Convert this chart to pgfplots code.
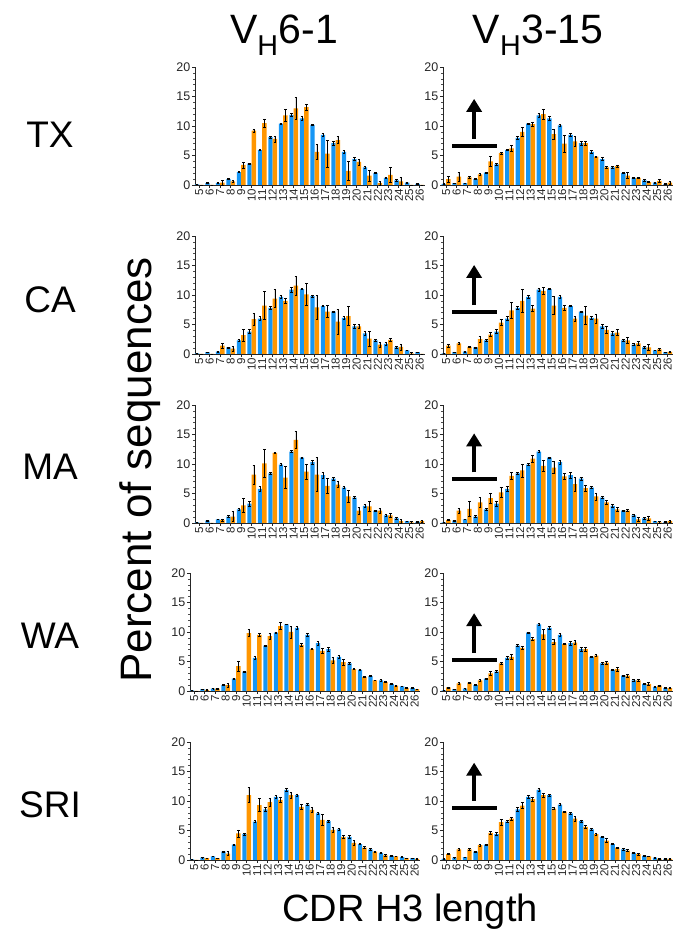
\documentclass[border=0pt]{standalone}
\usepackage{fontspec}
\setmainfont{Liberation Sans}
\usepackage{pgfplots}
\usepackage{pgfplotstable}
\pgfplotsset{compat=1.18}
\usetikzlibrary{arrows.meta}
\definecolor{cblue}{RGB}{22,150,245}
\definecolor{corange}{RGB}{255,150,0}

\pgfplotstableread{
x b be o oe
5 0.1 0.05 0.0 0.0
6 0.3 0.08 0.0 0.0
7 0.3 0.08 0.4 0.4
8 1.0 0.08 0.6 0.2
9 2.2 0.12 3.4 0.5
10 3.6 0.12 9.2 0.2
11 5.9 0.1 10.5 0.7
12 8.1 0.2 7.8 0.5
13 10.4 0.1 11.8 1.0
14 11.9 0.3 13.0 1.8
15 11.3 0.4 13.2 0.5
16 10.2 0.1 5.6 1.3
17 8.5 0.2 5.3 2.3
18 7.1 0.3 7.6 0.6
19 5.6 0.3 2.4 1.6
20 4.4 0.2 3.9 0.5
21 3.0 0.1 1.6 0.9
22 2.0 0.1 0.3 0.3
23 1.2 0.1 1.7 1.3
24 0.8 0.2 0.6 0.7
25 0.4 0.1 0.0 0.0
26 0.2 0.05 0.0 0.0
}\tA
\pgfplotstableread{
x b be o oe
5 0.2 0.05 1.0 0.5
6 0.3 0.05 1.4 0.8
7 0.3 0.05 1.3 0.1
8 1.0 0.05 1.8 0.15
9 2.1 0.1 4.0 0.8
10 3.5 0.1 5.4 0.15
11 5.9 0.1 6.2 0.5
12 8.0 0.2 9.0 0.7
13 10.4 0.1 10.3 0.4
14 11.8 0.3 12.0 0.9
15 11.3 0.4 8.6 0.8
16 10.1 0.1 7.0 1.4
17 8.5 0.2 7.4 0.9
18 7.1 0.3 7.1 0.3
19 5.6 0.3 4.8 0.1
20 4.4 0.2 3.0 0.15
21 3.0 0.1 3.2 0.2
22 2.0 0.1 1.6 0.5
23 1.2 0.1 1.2 0.1
24 0.8 0.1 0.5 0.1
25 0.4 0.1 0.7 0.2
26 0.15 0.05 0.4 0.3
}\tB
\pgfplotstableread{
x b be o oe
5 0.1 0.05 0.0 0.0
6 0.3 0.05 0.0 0.0
7 0.4 0.05 1.4 0.4
8 1.1 0.1 0.9 0.4
9 2.3 0.2 3.2 1.0
10 3.8 0.3 5.9 1.0
11 6.0 0.3 8.2 2.4
12 7.8 0.2 9.4 1.5
13 9.7 0.2 9.0 0.5
14 10.9 0.4 11.6 1.6
15 11.0 0.1 10.1 1.9
16 9.8 0.2 7.9 2.0
17 8.1 0.1 7.2 1.0
18 7.2 0.1 5.5 2.1
19 6.1 0.2 6.4 1.6
20 4.7 0.3 4.7 0.3
21 3.5 0.3 2.6 1.3
22 2.3 0.1 1.6 0.4
23 1.7 0.2 2.4 0.3
24 1.1 0.2 1.2 0.5
25 0.6 0.05 0.1 0.15
26 0.3 0.05 0.0 0.0
}\tC
\pgfplotstableread{
x b be o oe
5 0.1 0.05 1.4 0.3
6 0.3 0.05 1.8 0.2
7 0.4 0.05 1.2 0.1
8 1.1 0.1 2.5 0.5
9 2.3 0.2 3.3 0.3
10 3.8 0.3 5.3 0.5
11 6.0 0.3 7.4 1.4
12 7.8 0.2 9.0 2.0
13 9.7 0.2 7.7 0.5
14 10.9 0.3 10.7 0.6
15 11.0 0.1 8.2 1.5
16 9.7 0.2 7.8 0.4
17 8.1 0.1 6.0 0.4
18 7.2 0.1 6.5 1.5
19 6.1 0.2 6.0 0.8
20 4.7 0.3 4.1 0.6
21 3.5 0.3 3.6 0.5
22 2.3 0.1 2.3 0.5
23 1.6 0.2 1.8 0.3
24 1.1 0.2 1.1 0.5
25 0.6 0.05 0.8 0.2
26 0.3 0.05 0.35 0.1
}\tD
\pgfplotstableread{
x b be o oe
5 0.1 0.05 0.0 0.0
6 0.4 0.05 0.0 0.0
7 0.6 0.05 0.5 0.2
8 1.1 0.2 1.1 0.9
9 2.3 0.2 3.0 1.2
10 3.3 0.4 8.2 1.6
11 5.8 0.4 10.1 2.3
12 8.4 0.2 11.9 0.1
13 9.9 0.2 7.7 1.9
14 12.1 0.2 14.1 1.5
15 11.1 0.1 8.7 1.3
16 10.3 0.4 8.2 2.9
17 8.1 0.5 6.3 1.3
18 7.5 0.2 6.5 0.5
19 6.0 0.2 4.5 1.0
20 4.3 0.2 2.1 0.6
21 2.9 0.2 2.8 0.9
22 2.1 0.1 2.1 0.4
23 1.3 0.1 1.3 0.3
24 0.8 0.1 0.3 0.3
25 0.3 0.05 0.1 0.1
26 0.2 0.05 0.3 0.2
}\tE
\pgfplotstableread{
x b be o oe
5 0.1 0.05 0.5 0.1
6 0.4 0.05 2.1 0.4
7 0.6 0.05 2.4 1.2
8 1.1 0.2 3.5 0.8
9 2.3 0.2 4.2 0.8
10 3.3 0.4 5.2 0.8
11 5.8 0.4 8.0 0.6
12 8.4 0.2 8.9 1.1
13 9.9 0.2 10.9 0.6
14 12.1 0.2 9.7 1.0
15 11.1 0.1 9.4 1.0
16 10.3 0.3 7.9 0.5
17 8.1 0.5 6.6 1.2
18 7.5 0.2 5.9 0.5
19 6.0 0.2 4.5 0.6
20 4.3 0.2 3.5 0.3
21 2.9 0.2 2.3 0.4
22 2.1 0.1 2.1 0.2
23 1.3 0.1 0.6 0.3
24 0.8 0.1 0.8 0.4
25 0.3 0.05 0.1 0.1
26 0.2 0.05 0.3 0.2
}\tF
\pgfplotstableread{
x b be o oe
5 0.1 0.02 0.0 0.0
6 0.3 0.03 0.2 0.05
7 0.4 0.03 0.4 0.1
8 1.0 0.05 1.0 0.3
9 2.1 0.1 4.2 0.9
10 3.3 0.1 9.8 0.6
11 5.6 0.2 9.5 0.3
12 7.7 0.1 9.3 0.5
13 9.9 0.1 11.0 0.6
14 11.3 0.05 10.0 1.0
15 10.7 0.2 7.8 0.2
16 9.5 0.2 7.1 0.1
17 8.1 0.3 6.8 0.5
18 7.1 0.3 5.2 0.5
19 5.8 0.2 4.9 0.5
20 4.7 0.1 3.7 0.1
21 3.6 0.1 2.4 0.1
22 2.5 0.1 1.8 0.05
23 1.8 0.1 1.5 0.05
24 1.2 0.1 0.9 0.1
25 0.8 0.05 0.5 0.05
26 0.5 0.05 0.3 0.05
}\tG
\pgfplotstableread{
x b be o oe
5 0.1 0.02 0.6 0.1
6 0.3 0.03 1.3 0.1
7 0.4 0.03 1.4 0.1
8 1.0 0.05 1.8 0.1
9 2.1 0.1 3.0 0.3
10 3.3 0.2 4.7 0.1
11 5.6 0.3 5.8 0.4
12 7.7 0.2 7.3 0.2
13 9.9 0.1 8.8 0.3
14 11.3 0.1 9.6 0.8
15 10.7 0.2 8.3 0.4
16 9.5 0.2 8.0 0.1
17 8.1 0.3 8.2 0.3
18 7.1 0.3 7.1 0.3
19 5.8 0.1 6.0 0.2
20 4.7 0.1 4.8 0.2
21 3.6 0.1 3.7 0.3
22 2.6 0.1 2.6 0.3
23 1.8 0.1 1.8 0.2
24 1.2 0.1 1.2 0.2
25 0.7 0.05 0.9 0.05
26 0.5 0.05 0.5 0.05
}\tH
\pgfplotstableread{
x b be o oe
5 0.1 0.02 0.0 0.0
6 0.4 0.03 0.3 0.05
7 0.6 0.03 0.3 0.05
8 1.4 0.05 1.1 0.3
9 2.6 0.1 4.5 0.6
10 4.4 0.2 11.0 1.3
11 6.5 0.2 9.3 1.1
12 8.6 0.3 9.8 0.7
13 10.7 0.2 10.2 0.5
14 11.9 0.2 11.0 0.5
15 11.0 0.2 9.0 0.4
16 9.4 0.2 8.5 0.4
17 7.9 0.2 6.8 0.9
18 6.6 0.2 5.1 0.4
19 5.2 0.2 3.9 0.3
20 3.9 0.2 2.9 0.4
21 2.7 0.1 2.1 0.2
22 1.8 0.1 1.4 0.1
23 1.2 0.1 0.8 0.1
24 0.7 0.05 0.6 0.05
25 0.5 0.05 0.3 0.05
26 0.3 0.05 0.2 0.05
}\tI
\pgfplotstableread{
x b be o oe
5 0.2 0.02 1.0 0.1
6 0.4 0.03 1.8 0.1
7 0.5 0.03 1.8 0.1
8 1.4 0.1 2.5 0.2
9 2.6 0.1 4.6 0.3
10 4.4 0.3 6.4 0.5
11 6.5 0.2 7.0 0.2
12 8.6 0.3 9.2 0.5
13 10.7 0.2 10.3 0.4
14 11.9 0.2 11.0 0.3
15 11.0 0.2 8.7 0.2
16 9.4 0.2 8.2 0.1
17 7.9 0.1 7.0 0.4
18 6.6 0.2 5.6 0.2
19 5.2 0.2 4.4 0.2
20 3.9 0.1 3.3 0.3
21 2.7 0.1 2.1 0.1
22 1.8 0.1 1.6 0.2
23 1.2 0.1 1.0 0.2
24 0.7 0.05 0.6 0.05
25 0.4 0.05 0.2 0.05
26 0.2 0.05 0.2 0.1
}\tJ

\pgfplotsset{
 panel/.style={
  scale only axis, width=230pt, height=118pt,
  anchor=south west,
  ymin=0, ymax=20, xmax=26.5,
  ytick={0,5,10,15,20}, minor y tick num=4,
  xtick={5,...,26},
  axis x line*=bottom, axis y line*=left,
  axis line style={line width=0.8pt, black!85},
  every tick/.style={line width=0.7pt, black!85},
  every minor tick/.style={line width=0.5pt, black!70},
  tick align=outside, major tick length=3pt, minor tick length=1.6pt,
  /pgf/number format/assume math mode=true,
  yticklabel style={font=\fontsize{12.5}{13}\selectfont, inner sep=1.5pt, text=black!85},
  xticklabel style={font=\fontsize{11.5}{12}\selectfont, rotate=90, anchor=east, inner sep=1pt, text=black!85},
  ybar, bar width=0.42,
  clip=false,
 },
 ebars/.style={error bars/.cd, y dir=both, y explicit,
   error bar style={line width=0.7pt, black},
   error mark options={rotate=90, black, mark size=1.4pt, line width=0.7pt}},
}
\newcommand{\panel}[4]{%
 \begin{axis}[panel, at={(#1pt,#2pt)}, xmin=#3]
  \addplot[fill=cblue, draw=none, bar shift=-0.21, ebars] table[x=x, y=b, y error=be] {#4};
  \addplot[fill=corange, draw=none, bar shift=0.21, ebars] table[x=x, y=o, y error=oe] {#4};
 \end{axis}}
\newcommand{\panelarrow}[7]{%
 \begin{axis}[panel, at={(#1pt,#2pt)}, xmin=#3]
  \addplot[fill=cblue, draw=none, bar shift=-0.21, ebars] table[x=x, y=b, y error=be] {#4};
  \addplot[fill=corange, draw=none, bar shift=0.21, ebars] table[x=x, y=o, y error=oe] {#4};
  \draw[line width=3.8pt, black] (axis cs:5.57,#5) -- (axis cs:9.83,#5);
  \draw[line width=3.8pt, black, -{Triangle[width=15pt,length=13pt]}] (axis cs:7.65,#6) -- (axis cs:7.65,#7);
 \end{axis}}

\begin{document}
\begin{tikzpicture}[x=1pt,y=1pt]
\useasboundingbox (0,0) rectangle (674,949);
\panel{195}{764}{4.6}{\tA}
\panelarrow{443}{764}{4.7}{\tB}{6.6}{7.8}{14.6}
\panel{195}{595}{4.6}{\tC}
\panelarrow{443}{595}{4.7}{\tD}{7.1}{8.3}{15.1}
\panel{195}{426}{4.6}{\tE}
\panelarrow{443}{426}{4.7}{\tF}{7.4}{8.6}{15.2}
\panel{190}{258}{4.6}{\tG}
\panelarrow{443}{258}{4.7}{\tH}{5.3}{6.4}{13.2}
\panel{190}{89}{4.6}{\tI}
\panelarrow{443}{89}{4.7}{\tJ}{8.8}{10.0}{16.5}
\node[font=\fontsize{41}{41}\selectfont, anchor=base] at (284,905) {V\textsubscript{H}6-1};
\node[font=\fontsize{41}{41}\selectfont, anchor=base] at (538,905) {V\textsubscript{H}3-15};
\foreach \t/\yy in {TX/814, CA/649, MA/482, WA/313, SRI/144}
  \node[font=\fontsize{37}{37}\selectfont] at (50,\yy) {\t};
\node[font=\fontsize{44}{44}\selectfont, rotate=90] at (140,479) {Percent of sequences};
\node[font=\fontsize{38}{38}\selectfont] at (410,37) {CDR H3 length};
\end{tikzpicture}
\end{document}
